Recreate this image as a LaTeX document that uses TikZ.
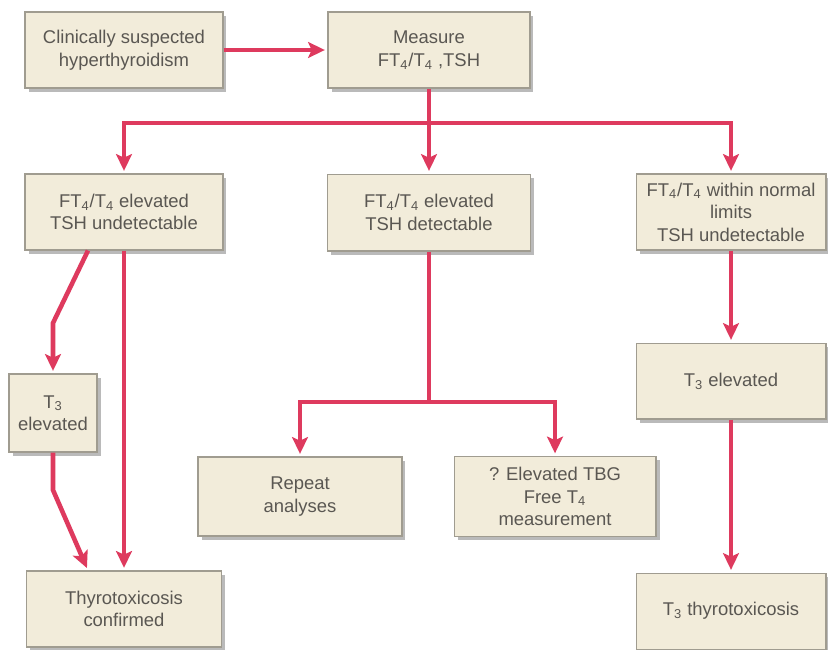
\documentclass[tikz,border=0pt]{standalone}
\usepackage{fontspec}
\setmainfont{Liberation Sans}
\usepackage{xcolor}
\usetikzlibrary{arrows.meta, positioning, shadows}
\definecolor{boxfill}{HTML}{F2ECDA}
\definecolor{boxline}{HTML}{A09C90}
\definecolor{flowred}{HTML}{DE3A5E}
\definecolor{textgray}{HTML}{5A5752}

\begin{document}
\begin{tikzpicture}[
  x=0.02cm, y=-0.02cm,
  box/.style={rectangle, draw=boxline, fill=boxfill, line width=0.6pt,
              minimum width=3.96cm, minimum height=1.52cm, inner sep=2pt,
              align=center, text=textgray,
              font=\fontsize{10.5}{12.8}\selectfont,
              drop shadow={shadow xshift=2pt, shadow yshift=-2pt, fill=black!45, opacity=0.6}},
  link/.style={draw=flowred, line width=2.6pt},
  arrow/.style={link, -{Stealth[length=9.5pt, width=9pt, inset=2pt]}, shorten >=1.5pt},
]
\useasboundingbox[fill=white] (0,0) rectangle (828,649);

\node[box] (CS) at (124,50) {Clinically suspected\\hyperthyroidism};
\node[box, minimum width=4.04cm, right=2.08cm of CS] (M) {Measure\\FT\textsubscript{4}/T\textsubscript{4} ,TSH};

\node[box] (EU) at (124,212) {FT\textsubscript{4}/T\textsubscript{4} elevated\\TSH undetectable};
\node[box, minimum width=4.06cm, minimum height=1.54cm, below=1.7cm of M] (ED) {FT\textsubscript{4}/T\textsubscript{4} elevated\\TSH detectable};
\node[box, minimum width=3.8cm] (NU) at (731,212) {FT\textsubscript{4}/T\textsubscript{4} within normal\\limits\\TSH undetectable};

\node[box, minimum width=1.76cm, minimum height=1.56cm] (T3a) at (53,413) {T\textsubscript{3}\\elevated};
\node[box, minimum width=3.9cm, below=6.4cm of EU] (TC) {Thyrotoxicosis\\confirmed};

\node[box, minimum width=4.08cm, minimum height=1.58cm] (RA) at (300,496.5) {Repeat\\analyses};
\node[box, minimum width=4.04cm, minimum height=1.6cm, right=1.02cm of RA] (TBG) {? Elevated TBG\\Free T\textsubscript{4}\\measurement};

\node[box, minimum width=3.8cm, below=1.84cm of NU] (T3e) {T\textsubscript{3} elevated};
\node[box, minimum width=3.8cm, below=3.06cm of T3e] (T3T) {T\textsubscript{3} thyrotoxicosis};

\draw[arrow] (CS) -- (M);

\coordinate (busM) at (M.south |- 0,123);
\draw[link] (M.south) -- (busM);
\draw[arrow] (busM) -| (EU.north);
\draw[arrow] (busM) -- (ED.north);
\draw[arrow] (busM) -| (NU.north);

\coordinate (kneeEU) at (T3a.north |- 0,323);
\coordinate (kneeT3) at (T3a.south |- 0,490);
\draw[arrow] ([xshift=-0.72cm]EU.south) -- (kneeEU) -- (T3a.north);
\draw[arrow] (T3a.south) -- (kneeT3) -- ([xshift=-0.72cm]TC.north);
\draw[arrow] (EU.south) -- (TC.north);

\coordinate (busD) at (ED.south |- 0,402);
\draw[link] (ED.south) -- (busD);
\draw[arrow] (busD) -| (RA.north);
\draw[arrow] (busD) -| (TBG.north);

\draw[arrow] (NU) -- (T3e);
\draw[arrow] (T3e) -- (T3T);
\end{tikzpicture}
\end{document}
